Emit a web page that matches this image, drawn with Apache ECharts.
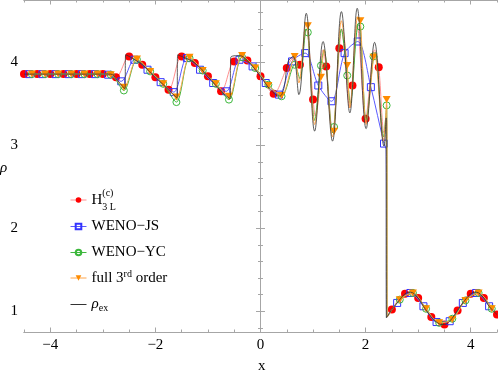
<!DOCTYPE html>
<html>
<head>
<meta charset="utf-8">
<script src="https://cdn.jsdelivr.net/npm/echarts@6/dist/echarts.min.js"></script>
<style>
  html, body { margin: 0; padding: 0; background: #fff; }
  #chart { width: 498px; height: 375px; }
</style>
</head>
<body>
<div id="chart"></div>
<script>
// ---- data ----
const xMajorTicks = [-4, -2, 0, 2, 4];
const yMajorTicks = [1, 2, 3, 4];
const yMinorTicks = [0.8, 1.0, 1.2, 1.4, 1.6, 1.8, 2.0, 2.2, 2.4, 2.6, 2.8, 3.0, 3.2, 3.4, 3.6, 3.8, 4.0, 4.2, 4.4, 4.6];

// H3L(c): markers every 0.25
const h3lX = [-4.5, -4.25, -4, -3.75, -3.5, -3.25, -3, -2.75, -2.5, -2.25, -2, -1.75, -1.5, -1.25, -1, -0.75, -0.5, -0.25,
  0, 0.25, 0.5, 0.75, 1, 1.25, 1.5, 1.75, 2, 2.25, 2.5, 2.75, 3, 3.25, 3.5, 3.75, 4, 4.25, 4.5];
const h3lY = [3.857, 3.857, 3.857, 3.857, 3.857, 3.857, 3.857, 3.82, 4.07, 3.97, 3.82, 3.67, 4.07, 3.99, 3.83, 3.65, 4.01, 4.02,
  3.83, 3.62, 3.93, 3.97, 3.55, 3.95, 4.17, 3.72, 3.32, 3.94, 1.02, 1.21, 1.16, 0.93, 0.84, 1.01, 1.21, 1.16, 0.96];
// line-only points (no marker)
const h3lLineX = [0.62, 0.87, 1.04, 1.19, 1.37, 1.54, 1.70, 1.84, 2.17, 2.35, 2.40, 2.415];
const h3lLineY = [4.05, 4.40, 3.35, 4.15, 3.15, 4.40, 3.45, 4.45, 4.15, 3.15, 3.30, 0.93];

// WENO-JS
const jsX = [-4.4, -4.15, -3.9, -3.65, -3.4, -3.15, -2.9, -2.65, -2.4, -2.15, -1.9, -1.65, -1.4, -1.15, -0.9, -0.65, -0.4, -0.15,
  0.1, 0.35, 0.6, 0.85, 1.1, 1.35, 1.6, 1.85, 2.1, 2.35, 2.6, 2.85, 3.1, 3.35, 3.6, 3.85, 4.1, 4.35];
const jsY = [3.857, 3.857, 3.857, 3.857, 3.857, 3.857, 3.85, 3.77, 4.03, 3.91, 3.76, 3.64, 4.05, 3.91, 3.75, 3.65, 4.03, 3.95,
  3.75, 3.61, 4.01, 4.11, 3.72, 3.53, 4.11, 4.25, 3.70, 3.02, 1.10, 1.22, 1.06, 0.87, 0.88, 1.10, 1.22, 1.06];
const jsLineX = [2.39, 2.40];
const jsLineY = [2.95, 0.93];

// WENO-YC
const ycX = [-4.35, -4.1, -3.85, -3.6, -3.35, -3.1, -2.85, -2.6, -2.35, -2.1, -1.85, -1.6, -1.35, -1.1, -0.85, -0.6, -0.35, -0.1,
  0.15, 0.4, 0.65, 0.9, 1.15, 1.4, 1.65, 1.9, 2.15, 2.4, 2.65, 2.9, 3.15, 3.4, 3.65, 3.9, 4.15, 4.4];
const ycY = [3.857, 3.857, 3.857, 3.857, 3.857, 3.857, 3.85, 3.66, 4.03, 3.89, 3.74, 3.52, 4.05, 3.90, 3.74, 3.55, 4.06, 3.93,
  3.73, 3.59, 3.97, 4.36, 3.96, 3.22, 3.84, 4.43, 4.07, 3.48, 1.14, 1.22, 1.03, 0.86, 0.91, 1.13, 1.22, 1.03];
const ycLineX = [0.75, 0.87, 1.03, 1.21, 1.37, 1.54, 1.71, 1.86, 2.01, 2.18, 2.34, 2.41];
const ycLineY = [3.80, 4.40, 3.30, 4.15, 3.15, 4.40, 3.50, 4.45, 3.30, 4.12, 3.10, 0.93];

// full 3rd order
const fullX = ycX;
const fullY = [3.857, 3.857, 3.857, 3.857, 3.857, 3.857, 3.85, 3.70, 4.04, 3.89, 3.74, 3.58, 4.06, 3.90, 3.74, 3.59, 4.08, 3.93,
  3.72, 3.60, 4.07, 4.44, 3.82, 3.17, 3.96, 4.50, 4.06, 3.55, 1.14, 1.22, 1.03, 0.86, 0.90, 1.13, 1.22, 1.03];
const fullLineX = [0.73, 0.87, 1.03, 1.21, 1.37, 1.54, 1.70, 1.85, 2.01, 2.17, 2.34, 2.41];
const fullLineY = [3.75, 4.48, 3.25, 4.15, 3.10, 4.50, 3.45, 4.55, 3.25, 4.12, 3.05, 0.93];

// exact solution
const exactX = [-4.5, -2.85, -2.75, -2.58, -2.565, -2.5, -2.25, -2, -1.75, -1.59, -1.575, -1.5, -1.25, -1, -0.75, -0.58, -0.565,
  -0.4, -0.25, 0, 0.2, 0.36, 0.45, 0.52, 0.62, 0.73, 0.87, 1.03, 1.19, 1.37, 1.54, 1.70, 1.84, 2.01, 2.17, 2.35, 2.39, 2.395,
  2.5, 2.6, 2.75, 2.85, 3, 3.1, 3.25, 3.35, 3.45, 3.5, 3.6, 3.75, 3.85, 4, 4.1, 4.25, 4.35, 4.5];
const exactY = [3.857, 3.857, 3.80, 3.68, 4.09, 4.07, 3.97, 3.82, 3.67, 3.57, 4.09, 4.07, 3.99, 3.83, 3.65, 3.56, 4.06,
  4.08, 4.02, 3.83, 3.66, 3.59, 3.70, 4.00, 4.07, 3.61, 4.59, 3.17, 4.25, 3.05, 4.61, 3.39, 4.65, 3.20, 4.24, 2.99, 3.33, 0.92,
  1.02, 1.10, 1.21, 1.23, 1.16, 1.06, 0.93, 0.87, 0.84, 0.84, 0.88, 1.01, 1.10, 1.21, 1.23, 1.16, 1.06, 0.96];

const seriesNames = ['h3l', 'js', 'yc', 'full', 'exact'];
const legendTops = [188, 219, 245, 269, 297];

// ---- chart ----
const FONT = '"Liberation Serif", "DejaVu Serif", serif';
const FRAME = '#a6a6a6';
const X_MIN = -4.5, X_MAX = 4.5, Y_MIN = 0.75, Y_MAX = 4.75;

function buildLine(mx, my, lx, ly) {
  const pts = mx.map((x, i) => ({ value: [x, my[i]] }));
  lx.forEach((x, i) => pts.push({ value: [x, ly[i]], symbol: 'none' }));
  pts.sort((a, b) => a.value[0] - b.value[0]);
  return pts;
}
const minus = v => String(v).replace('-', '\u2212');

function xAx(pos, major, labels) {
  return {
    type: 'value', position: pos, min: X_MIN, max: X_MAX,
    interval: major ? undefined : 0.5,
    axisLine: { show: true, lineStyle: { color: FRAME, width: 1 } },
    axisTick: major ? { show: true, inside: true, length: 4.5, customValues: xMajorTicks, lineStyle: { color: FRAME } }
                    : { show: true, inside: true, length: 2.5, lineStyle: { color: FRAME } },
    axisLabel: labels ? { show: true, customValues: xMajorTicks, formatter: minus, color: '#000',
                          fontFamily: FONT, fontSize: 15, margin: 6 } : { show: false },
    splitLine: { show: false }
  };
}
function yAx(pos, major, labels) {
  return {
    type: 'value', position: pos, min: Y_MIN, max: Y_MAX,
    axisLine: { show: true, lineStyle: { color: FRAME, width: 1 } },
    axisTick: major ? { show: true, inside: true, length: 4.5, customValues: yMajorTicks, lineStyle: { color: FRAME } }
                    : { show: true, inside: true, length: 2.5, customValues: yMinorTicks, lineStyle: { color: FRAME } },
    axisLabel: labels ? { show: true, customValues: yMajorTicks, color: '#000',
                          fontFamily: FONT, fontSize: 15, margin: 6 } : { show: false },
    splitLine: { show: false }
  };
}

const txt = { fontFamily: FONT, fontSize: 15, color: '#000' };
const rich = {
  h: { fontFamily: FONT, fontSize: 15, color: '#000', lineHeight: 24 },
  sup: { fontFamily: FONT, fontSize: 10, color: '#000', verticalAlign: 'top', width: 0 },
  sub: { fontFamily: FONT, fontSize: 10, color: '#000', verticalAlign: 'bottom' },
  t: { fontFamily: FONT, fontSize: 15, color: '#000', lineHeight: 18 },
  rd: { fontFamily: FONT, fontSize: 10, color: '#000', verticalAlign: 'top' },
  it: { fontFamily: FONT, fontSize: 15, color: '#000', fontStyle: 'italic', lineHeight: 18 },
  ex: { fontFamily: FONT, fontSize: 10, color: '#000', verticalAlign: 'bottom' }
};
const legendLabels = {
  h3l: '{h|H}{sup|(c)}{sub|3 L}',
  js: '{t|WENO\u2212JS}',
  yc: '{t|WENO\u2212YC}',
  full: '{t|full 3}{rd|rd}{t| order}',
  exact: '{it|\u03c1}{ex|ex}'
};

const chart = echarts.init(document.getElementById('chart'), null, { renderer: 'canvas' });
chart.setOption({
  animation: false,
  backgroundColor: '#fff',
  grid: { left: 24, right: 1, top: 0, bottom: 43, containLabel: false },
  xAxis: [xAx('bottom', true, true), xAx('bottom', false, false), xAx('top', true, false), xAx('top', false, false)],
  yAxis: [yAx('left', true, true), yAx('left', false, false), yAx('right', true, false), yAx('right', false, false)],
  legend: seriesNames.map((name, i) => Object.assign({
    data: [name], orient: 'vertical', left: 70, top: legendTops[i],
    itemWidth: 16, itemHeight: 7, itemGap: 0, padding: 0, selectedMode: false,
    lineStyle: { width: 1 },
    formatter: n => legendLabels[n], textStyle: Object.assign({ rich: rich }, txt)
  }, name === 'exact' ? { itemStyle: { opacity: 0 } } : {})),
  graphic: [
    { type: 'text', left: 258, top: 359, style: Object.assign({ text: 'x' }, txt) },
    { type: 'text', left: 0, top: 161, style: Object.assign({ text: '\u03c1', fontStyle: 'italic' }, txt) }
  ],
  series: [
    {
      name: 'h3l', type: 'line', data: buildLine(h3lX, h3lY, h3lLineX, h3lLineY),
      smooth: 0.3, symbol: 'circle', symbolSize: 8, showAllSymbol: true,
      lineStyle: { color: '#ff8f8f', width: 1 }, itemStyle: { color: '#ff0000' },
      markLine: {
        silent: true, symbol: 'none', label: { show: false },
        lineStyle: { color: FRAME, width: 1, type: 'solid' }, data: [{ xAxis: 0 }]
      },
      z: 2
    },
    {
      name: 'js', type: 'line', data: buildLine(jsX, jsY, jsLineX, jsLineY),
      smooth: 0.3, symbol: 'rect', symbolSize: 7, showAllSymbol: true,
      lineStyle: { color: '#5a5aff', width: 1 },
      itemStyle: { color: 'rgba(255,255,255,0)', borderColor: '#3333ff', borderWidth: 1 },
      z: 3
    },
    {
      name: 'yc', type: 'line', data: buildLine(ycX, ycY, ycLineX, ycLineY),
      smooth: 0.3, symbol: 'circle', symbolSize: 7, showAllSymbol: true,
      lineStyle: { color: '#3fb63f', width: 1 },
      itemStyle: { color: 'rgba(255,255,255,0)', borderColor: '#3cb83c', borderWidth: 1 },
      z: 4
    },
    {
      name: 'full', type: 'line', data: buildLine(fullX, fullY, fullLineX, fullLineY),
      smooth: 0.3, symbol: 'triangle', symbolRotate: 180, symbolSize: [8, 7], showAllSymbol: true,
      lineStyle: { color: '#ffa64d', width: 1 }, itemStyle: { color: '#ff8c00' },
      z: 5
    },
    {
      name: 'exact', type: 'line', data: exactX.map((x, i) => [x, exactY[i]]),
      smooth: 0.4, symbol: 'none', showSymbol: false,
      lineStyle: { color: '#333', width: 0.8 }, itemStyle: { color: '#333' },
      z: 6
    }
  ]
});
</script>
</body>
</html>
